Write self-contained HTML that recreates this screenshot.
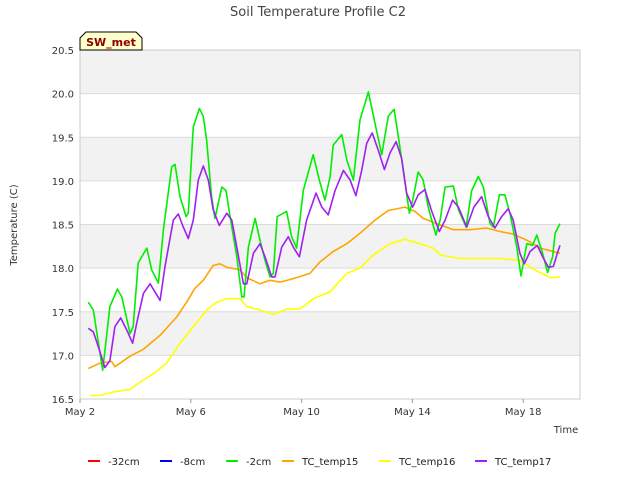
<!DOCTYPE html>
<html><head><meta charset="utf-8"><style>
body{margin:0;background:#fff;font-family:"Liberation Sans","DejaVu Sans",sans-serif}
svg text{font-family:"DejaVu Sans","Liberation Sans",sans-serif}
</style></head><body>
<svg id="c" width="640" height="480" xmlns="http://www.w3.org/2000/svg">
<text x="318" y="16" text-anchor="middle" font-size="13" fill="#444">Soil Temperature Profile C2</text>
<g id="plot"></g>
<text transform="translate(17,225) rotate(-90)" text-anchor="middle" font-size="10" fill="#333">Temperature (C)</text>
<text x="566" y="433" text-anchor="middle" font-size="10" fill="#333">Time</text>
<g>
<path d="M80,50 L80,38 L86,32 L136,32 L142,38 L142,50 Z" fill="#ffffcc" stroke="#000" stroke-width="1"/>
<text x="111" y="46" text-anchor="middle" font-size="11" font-weight="bold" fill="#8b0000">SW_met</text>
</g>
<g id="legend"></g>
</svg>
<script>
const yTicks=[16.5,17.0,17.5,18.0,18.5,19.0,19.5,20.0,20.5];
const xTickDays=[0,4,8,12,16];
const xTickLabels=["May 2","May 6","May 10","May 14","May 18"];
const seriesNames=["-32cm","-8cm","-2cm","TC_temp15","TC_temp16","TC_temp17"];
const seriesColors=["#ff0000","#0000ff","#00ee00","#ffa500","#ffff00","#a020f0"];
const greenDays=[0.30,0.48,0.82,1.08,1.35,1.51,1.81,1.92,2.10,2.41,2.59,2.83,3.01,3.31,3.43,3.61,3.83,3.91,4.09,4.31,4.45,4.57,4.75,4.87,4.99,5.12,5.27,5.42,5.66,5.84,5.92,6.08,6.32,6.50,6.68,6.86,6.98,7.12,7.46,7.64,7.82,8.06,8.42,8.64,8.84,9.03,9.14,9.45,9.63,9.87,10.11,10.41,10.65,10.89,11.13,11.34,11.49,11.67,11.89,12.01,12.21,12.39,12.57,12.85,13.00,13.18,13.48,13.66,13.94,14.14,14.38,14.56,14.80,14.92,15.14,15.34,15.52,15.77,15.92,16.13,16.34,16.49,16.70,16.88,17.06,17.15,17.33];
const greenVals=[17.61,17.52,16.83,17.56,17.76,17.67,17.25,17.33,18.06,18.23,17.98,17.83,18.44,19.16,19.19,18.82,18.59,18.63,19.62,19.83,19.74,19.47,18.82,18.57,18.74,18.93,18.89,18.59,18.13,17.67,17.67,18.24,18.57,18.32,18.09,17.90,17.94,18.59,18.65,18.36,18.23,18.89,19.30,19.01,18.78,19.05,19.41,19.53,19.24,19.01,19.70,20.02,19.66,19.30,19.74,19.82,19.51,19.12,18.63,18.78,19.10,19.01,18.70,18.38,18.55,18.93,18.94,18.67,18.47,18.89,19.05,18.93,18.51,18.47,18.84,18.84,18.63,18.24,17.91,18.28,18.26,18.38,18.17,17.95,18.13,18.40,18.51];
const orangeDays=[0.30,0.72,1.14,1.26,1.81,2.29,2.89,3.49,3.85,4.15,4.45,4.81,5.05,5.30,5.78,6.02,6.50,6.86,7.22,7.70,8.30,8.66,9.14,9.63,10.11,10.65,11.13,11.73,12.09,12.39,12.88,13.48,14.08,14.68,15.16,15.64,16.13,16.61,16.97,17.33];
const orangeVals=[16.85,16.91,16.93,16.87,16.99,17.07,17.23,17.44,17.61,17.77,17.86,18.03,18.05,18.01,17.98,17.89,17.82,17.86,17.84,17.88,17.94,18.07,18.19,18.28,18.40,18.55,18.66,18.70,18.65,18.57,18.51,18.44,18.44,18.46,18.42,18.39,18.32,18.23,18.20,18.17];
const yellowDays=[0.36,0.72,1.20,1.81,2.10,2.65,3.13,3.61,4.09,4.57,4.94,5.30,5.78,6.02,6.50,6.98,7.46,7.94,8.42,9.03,9.63,10.11,10.59,11.19,11.73,12.27,12.75,13.00,13.72,14.44,15.16,15.88,16.37,16.97,17.33];
const yellowVals=[16.54,16.54,16.58,16.61,16.68,16.79,16.91,17.14,17.33,17.52,17.61,17.65,17.65,17.56,17.52,17.47,17.53,17.53,17.65,17.73,17.94,18.00,18.15,18.28,18.33,18.28,18.23,18.15,18.11,18.11,18.11,18.09,17.99,17.89,17.90];
const purpleDays=[0.30,0.48,0.66,0.90,1.08,1.26,1.47,1.69,1.90,2.07,2.29,2.53,2.89,3.07,3.37,3.55,3.73,3.91,4.09,4.27,4.45,4.63,4.81,5.03,5.30,5.48,5.66,5.90,6.02,6.26,6.50,6.68,6.92,7.04,7.28,7.52,7.70,7.92,8.18,8.52,8.73,8.96,9.21,9.51,9.75,9.96,10.17,10.35,10.55,10.77,10.99,11.19,11.41,11.61,11.79,12.01,12.21,12.45,12.70,12.97,13.18,13.45,13.66,13.96,14.22,14.50,14.74,14.98,15.22,15.46,15.64,15.88,16.04,16.25,16.51,16.70,16.91,17.09,17.23,17.33];
const purpleVals=[17.31,17.27,17.10,16.86,16.94,17.33,17.43,17.29,17.14,17.40,17.71,17.82,17.63,18.02,18.55,18.62,18.47,18.34,18.55,19.01,19.17,19.01,18.67,18.49,18.63,18.55,18.24,17.82,17.82,18.17,18.28,18.13,17.90,17.90,18.24,18.36,18.24,18.13,18.55,18.86,18.70,18.61,18.89,19.12,19.01,18.83,19.12,19.43,19.55,19.35,19.13,19.32,19.45,19.26,18.86,18.70,18.84,18.90,18.65,18.42,18.55,18.78,18.70,18.47,18.70,18.82,18.59,18.46,18.59,18.68,18.55,18.17,18.05,18.19,18.26,18.13,18.01,18.02,18.17,18.26];

const NS="http://www.w3.org/2000/svg";
const L=80,R=580,T=50,B=399;
const xs=d=>L+d*27.7;
const ys=v=>B-(v-16.5)/4*(B-T);
const plot=document.getElementById('plot');
function mk(tag,attrs,parent){const e=document.createElementNS(NS,tag);for(const k in attrs)e.setAttribute(k,attrs[k]);parent.appendChild(e);return e;}
for(let i=0;i<yTicks.length-1;i++){
  if(i%2===1){const r=mk('rect',{x:L,y:ys(yTicks[i+1]),width:R-L,height:ys(yTicks[i])-ys(yTicks[i+1]),fill:'#f2f2f2'},plot);
  
  }
}
yTicks.forEach(v=>{
  const g=mk('line',{x1:L,x2:R,y1:ys(v),y2:ys(v),stroke:'#dcdcdc','stroke-width':1},plot);
  
  
  const t=mk('text',{x:L-6,y:ys(v)+4,'text-anchor':'end','font-size':10,fill:'#333'},plot);
  t.textContent=v.toFixed(1);
  
  
});
const fr=mk('rect',{x:L,y:T,width:R-L,height:B-T,fill:'none',stroke:'#cccccc'},plot);


xTickDays.forEach((d,i)=>{
  mk('line',{x1:xs(d),x2:xs(d),y1:B,y2:B+4,stroke:'#999'},plot);
  const t=mk('text',{x:xs(d),y:B+16,'text-anchor':'middle','font-size':10,fill:'#333'},plot);
  t.textContent=xTickLabels[i];
  
  
});
const lines=[[orangeDays,orangeVals,3,'series-tc-temp15'],[yellowDays,yellowVals,4,'series-tc-temp16'],[greenDays,greenVals,2,'series-2cm'],[purpleDays,purpleVals,5,'series-tc-temp17']];
lines.forEach(([ds,vs,ci,name])=>{
  const p=mk('polyline',{points:ds.map((d,i)=>xs(d).toFixed(1)+','+ys(vs[i]).toFixed(1)).join(' '),fill:'none',stroke:seriesColors[ci],'stroke-width':1.6,'stroke-linejoin':'round'},plot);
  
  
});
const leg=document.getElementById('legend');
const legX=[88,160,226,282,379,475];
seriesNames.forEach((n,i)=>{
  const g=mk('g',{},leg);
  
  
  mk('line',{x1:legX[i],x2:legX[i]+12,y1:461,y2:461,stroke:seriesColors[i],'stroke-width':2},g);
  const t=mk('text',{x:legX[i]+20,y:465,'font-size':10,fill:'#222'},g);
  t.textContent=n;
});
</script>
</body></html>
